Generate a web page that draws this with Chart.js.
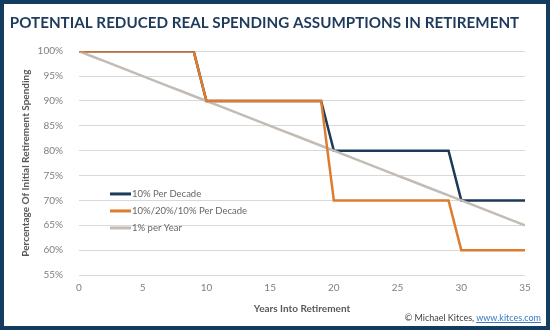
<!DOCTYPE html>
<html>
<head>
<meta charset="utf-8">
<script src="https://cdn.jsdelivr.net/npm/chart.js@4"></script>
<style>
  html, body { margin: 0; padding: 0; background: #fff; }
  #frame {
    position: relative;
    width: 550px; height: 330px;
    box-sizing: border-box;
    border: 4px solid #143c5e;
    background: #fff;
  }
  #credit {
    position: absolute;
    right: 5px; bottom: 3px;
    font: 9px Lato, sans-serif;
    color: #404040;
  }
  #credit a { color: #3b78c2; text-decoration: underline; }
</style>
</head>
<body>
<div id="frame">
  <canvas id="spendChart"></canvas>
  <div id="credit">© Michael Kitces, <a>www.kitces.com</a></div>
</div>
<script>
const years = [0, 1, 2, 3, 4, 5, 6, 7, 8, 9, 10, 11, 12, 13, 14, 15, 16, 17,
  18, 19, 20, 21, 22, 23, 24, 25, 26, 27, 28, 29, 30, 31, 32, 33, 34, 35];

const tenPerDecade = [100, 100, 100, 100, 100, 100, 100, 100, 100, 100,
  90, 90, 90, 90, 90, 90, 90, 90, 90, 90,
  80, 80, 80, 80, 80, 80, 80, 80, 80, 80,
  70, 70, 70, 70, 70, 70];

const tenTwentyTen = [100, 100, 100, 100, 100, 100, 100, 100, 100, 100,
  90, 90, 90, 90, 90, 90, 90, 90, 90, 90,
  70, 70, 70, 70, 70, 70, 70, 70, 70, 70,
  60, 60, 60, 60, 60, 60];

const onePerYear = [100, 99, 98, 97, 96, 95, 94, 93, 92, 91,
  90, 89, 88, 87, 86, 85, 84, 83, 82, 81,
  80, 79, 78, 77, 76, 75, 74, 73, 72, 71,
  70, 69, 68, 67, 66, 65];

const seriesNames = ['10% Per Decade', '10%/20%/10% Per Decade', '1% per Year'];
const yTicks = [55, 60, 65, 70, 75, 80, 85, 90, 95, 100];
const xTicks = [0, 5, 10, 15, 20, 25, 30, 35];

Chart.defaults.font.family = 'Lato, sans-serif';

const pts = arr => arr.map((v, i) => ({ x: years[i], y: v }));

// legend sits inside the plot, drawn by hand
const innerLegend = {
  id: 'innerLegend',
  afterDraw(chart) {
    const c = chart.ctx;
    const a = chart.chartArea;
    const x = a.left + 31;
    let y = chart.scales.y.getPixelForValue(71.3);
    c.save();
    c.font = '9.5px Lato, sans-serif';
    c.textBaseline = 'middle';
    chart.data.datasets.forEach(ds => {
      c.strokeStyle = ds.borderColor;
      c.lineWidth = 3;
      c.beginPath();
      c.moveTo(x, y);
      c.lineTo(x + 21, y);
      c.stroke();
      c.fillStyle = '#666666';
      c.fillText(ds.label, x + 22, y);
      y += 17;
    });
    c.restore();
  }
};

new Chart(document.getElementById('spendChart'), {
  type: 'line',
  data: {
    datasets: [{
      label: seriesNames[0],
      data: pts(tenPerDecade),
      borderColor: '#1c3a5a',
      borderWidth: 2.5,
      order: 2
    }, {
      label: seriesNames[1],
      data: pts(tenTwentyTen),
      borderColor: '#dd7c2f',
      borderWidth: 2.5,
      order: 0
    }, {
      label: seriesNames[2],
      data: pts(onePerYear),
      borderColor: '#c2bcb5',
      borderWidth: 2.5,
      order: 1
    }]
  },
  options: {
    responsive: true,
    maintainAspectRatio: false,
    animation: false,
    elements: { point: { radius: 0 }, line: { tension: 0 } },
    layout: { padding: { left: 0, right: 21, bottom: 11 } },
    plugins: {
      legend: { display: false },
      tooltip: { enabled: false },
      title: {
        display: true,
        text: 'POTENTIAL REDUCED REAL SPENDING ASSUMPTIONS IN RETIREMENT',
        color: '#1f3b5c',
        font: { size: 15.2, weight: 'bold' },
        padding: { top: 10, bottom: 19 }
      }
    },
    scales: {
      x: {
        type: 'linear',
        min: 0,
        max: 35,
        afterBuildTicks: s => { s.ticks = xTicks.map(v => ({ value: v })); },
        grid: { display: false, drawTicks: false },
        border: { display: false },
        ticks: { color: '#7f7f7f', font: { size: 10 }, padding: 7 },
        title: {
          display: true,
          text: 'Years Into Retirement',
          color: '#595959',
          font: { size: 10, weight: 'bold' },
          padding: { top: 2, bottom: 0 }
        }
      },
      y: {
        min: 55,
        max: 100,
        afterBuildTicks: s => { s.ticks = yTicks.map(v => ({ value: v })); },
        afterFit: s => { s.width = 75; },
        grid: { color: '#d9d9d9', lineWidth: 1, drawTicks: false },
        border: { display: false },
        ticks: {
          color: '#7f7f7f',
          font: { size: 10 },
          padding: 16,
          callback: v => v + '%'
        },
        title: {
          display: true,
          text: 'Percentage Of Initial Retirement Spending',
          color: '#595959',
          font: { size: 10, weight: 'bold' },
          padding: { top: 16, bottom: 0 }
        }
      }
    }
  },
  plugins: [innerLegend]
});
</script>
</body>
</html>
